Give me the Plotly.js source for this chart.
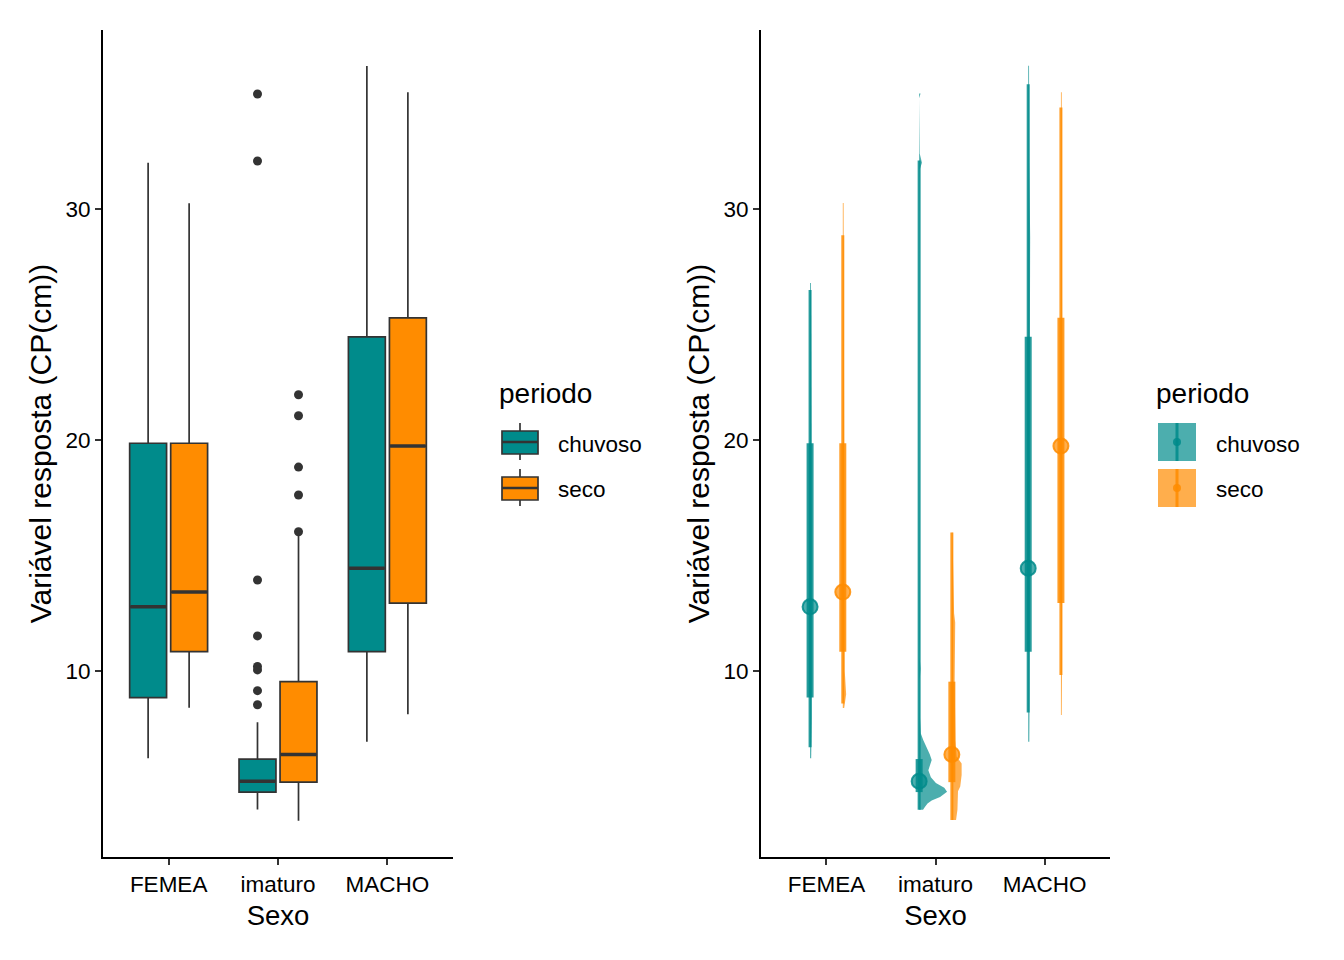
<!DOCTYPE html>
<html>
<head>
<meta charset="utf-8">
<script src="https://cdn.plot.ly/plotly-3.0.1.min.js"></script>
<style>
  html, body { margin: 0; padding: 0; background: #fff; }
  #myDiv { width: 1344px; height: 960px; }
</style>
</head>
<body>
<div id="myDiv"></div>
<script>
// categorias e periodos
var categorias = ['FEMEA', 'imaturo', 'MACHO'];
var periodos = ['chuvoso', 'seco'];

// boxplot, ordem: FEMEA, imaturo, MACHO
var q1Chuvoso = [8.85, 4.76, 10.84];
var q1Seco = [10.84, 5.19, 12.94];
var medianaChuvoso = [12.78, 5.23, 14.45];
var medianaSeco = [13.42, 6.39, 19.74];
var q3Chuvoso = [19.86, 6.19, 24.47];
var q3Seco = [19.86, 9.54, 25.29];
var bigodeInfChuvoso = [6.22, 4.01, 6.94];
var bigodeInfSeco = [8.41, 3.52, 8.13];
var bigodeSupChuvoso = [32.0, 7.78, 36.19];
var bigodeSupSeco = [30.25, 15.95, 35.05];

// outliers por categoria
var outliersChuvoso = [[], [34.98, 32.08, 13.94, 11.52, 10.2, 10.05, 9.15, 8.54], []];
var outliersSeco = [[], [21.96, 21.05, 18.83, 17.62, 16.03], []];

// intervalo fino (95%) do painel direito
var int95LoChuvoso = [6.7, 4.0, 8.2];
var int95LoSeco = [8.6, 3.55, 9.83];
var int95HiChuvoso = [26.5, 32.1, 35.4];
var int95HiSeco = [28.87, 16.0, 34.4];

// densidade (slab) por grupo: valores e densidade relativa
var slabYChuvoso = [
  [6.23, 8, 12, 16, 20, 24, 26.8],
  [4.0, 4.1, 4.27, 4.4, 4.55, 4.78, 4.95, 5.15, 5.4, 5.7, 5.9, 6.15, 6.4, 6.7, 7.0, 7.3, 8.0, 9.6, 10.1, 10.6, 11.5, 14.0, 20, 31.7, 32.0, 32.4, 34.8, 35.0],
  [6.94, 9, 12, 16, 20, 24, 28.8, 32, 36.2]
];
var slabDChuvoso = [
  [0.04, 0.06, 0.07, 0.06, 0.05, 0.04, 0.03],
  [0.14, 0.2, 0.3, 0.45, 0.75, 1.0, 0.9, 0.6, 0.42, 0.33, 0.38, 0.45, 0.38, 0.25, 0.15, 0.06, 0.03, 0.02, 0.05, 0.02, 0.03, 0.02, 0.0, 0.02, 0.1, 0.02, 0.0, 0.05],
  [0.04, 0.05, 0.06, 0.06, 0.05, 0.05, 0.07, 0.04, 0.03]
];
var slabYSeco = [
  [8.4, 9, 10, 14, 18, 22, 26, 30.26],
  [3.55, 4.0, 4.8, 5.0, 5.5, 6.0, 6.3, 7.0, 9.5, 12.1, 12.5, 16.0],
  [8.1, 10, 14, 18, 22, 26, 30, 35.06]
];
var slabDSeco = [
  [0.05, 0.12, 0.07, 0.06, 0.05, 0.04, 0.03, 0.03],
  [0.15, 0.2, 0.22, 0.3, 0.35, 0.35, 0.17, 0.13, 0.1, 0.12, 0.08, 0.02],
  [0.03, 0.04, 0.05, 0.06, 0.05, 0.04, 0.03, 0.03]
];

var cores = ['#008B8B', '#FF8C00'];
var coresAlpha = ['rgba(0,139,139,0.7)', 'rgba(255,140,0,0.7)'];
var coresInt = ['rgba(0,139,139,0.85)', 'rgba(255,140,0,0.85)'];
var fonte = 'Liberation Sans, Arial, sans-serif';

var dodgeBox = 0.1875, larguraBox = 0.3375;
var dodgeSlab = 0.15, escalaSlab = 0.256;

var stats = [
  {q1: q1Chuvoso, med: medianaChuvoso, q3: q3Chuvoso, lo: bigodeInfChuvoso, hi: bigodeSupChuvoso,
   out: outliersChuvoso, i95lo: int95LoChuvoso, i95hi: int95HiChuvoso, sy: slabYChuvoso, sd: slabDChuvoso},
  {q1: q1Seco, med: medianaSeco, q3: q3Seco, lo: bigodeInfSeco, hi: bigodeSupSeco,
   out: outliersSeco, i95lo: int95LoSeco, i95hi: int95HiSeco, sy: slabYSeco, sd: slabDSeco}
];

var data = [];

// painel esquerdo: boxplots
stats.forEach(function (s, k) {
  var sinal = k === 0 ? -1 : 1;
  var pos = categorias.map(function (c, i) { return i + 1 + sinal * dodgeBox; });
  data.push({
    type: 'box', xaxis: 'x', yaxis: 'y',
    x: pos, q1: s.q1, median: s.med, q3: s.q3,
    lowerfence: s.lo, upperfence: s.hi,
    width: larguraBox, whiskerwidth: 0, boxpoints: false,
    fillcolor: cores[k], line: {color: '#333333', width: 1.7},
    name: periodos[k], showlegend: false, hoverinfo: 'skip'
  });
  // linha da mediana mais grossa
  var mx = [], my = [];
  pos.forEach(function (p, i) {
    mx.push(p - larguraBox / 2 + 0.006, p + larguraBox / 2 - 0.006, null);
    my.push(s.med[i], s.med[i], null);
  });
  data.push({
    type: 'scatter', mode: 'lines', xaxis: 'x', yaxis: 'y',
    x: mx, y: my, line: {color: '#333333', width: 3.6},
    showlegend: false, hoverinfo: 'skip'
  });
  // outliers
  var ox = [], oy = [];
  s.out.forEach(function (vals, i) {
    vals.forEach(function (v) { ox.push(pos[i]); oy.push(v); });
  });
  data.push({
    type: 'scatter', mode: 'markers', xaxis: 'x', yaxis: 'y',
    x: ox, y: oy, marker: {color: '#333333', size: 9},
    showlegend: false, hoverinfo: 'skip'
  });
});

// painel direito: slab + intervalos + ponto
stats.forEach(function (s, k) {
  var sinal = k === 0 ? -1 : 1;
  var pos = categorias.map(function (c, i) { return i + 1 + sinal * dodgeSlab; });
  pos.forEach(function (p, i) {
    var ys = s.sy[i], ds = s.sd[i];
    var px = [p], py = [ys[0]];
    ys.forEach(function (y, j) { px.push(p + ds[j] * escalaSlab); py.push(y); });
    px.push(p); py.push(ys[ys.length - 1]);
    data.push({
      type: 'scatter', mode: 'lines', xaxis: 'x2', yaxis: 'y2',
      x: px, y: py, fill: 'toself', fillcolor: coresAlpha[k],
      line: {width: 0, color: coresAlpha[k]},
      showlegend: false, hoverinfo: 'skip'
    });
  });
  var tx = [], ty = [], gx = [], gy = [];
  pos.forEach(function (p, i) {
    tx.push(p, p, null); ty.push(s.i95lo[i], s.i95hi[i], null);
    gx.push(p, p, null); gy.push(s.q1[i], s.q3[i], null);
  });
  data.push({
    type: 'scatter', mode: 'lines', xaxis: 'x2', yaxis: 'y2',
    x: tx, y: ty, line: {color: coresInt[k], width: 3},
    showlegend: false, hoverinfo: 'skip'
  });
  data.push({
    type: 'scatter', mode: 'lines', xaxis: 'x2', yaxis: 'y2',
    x: gx, y: gy, line: {color: coresInt[k], width: 7},
    showlegend: false, hoverinfo: 'skip'
  });
  data.push({
    type: 'scatter', mode: 'markers', xaxis: 'x2', yaxis: 'y2',
    x: pos, y: s.med,
    marker: {color: coresAlpha[k], size: 15, line: {color: coresInt[k], width: 2}},
    showlegend: false, hoverinfo: 'skip'
  });
});

// eixos
function eixoX(dominio, ancora) {
  return {
    domain: dominio, anchor: ancora, range: [0.4, 3.6],
    tickvals: [1, 2, 3], ticktext: categorias,
    showline: true, linecolor: '#000', linewidth: 2,
    ticks: 'outside', ticklen: 6, tickwidth: 2, tickcolor: '#333333',
    showgrid: false, zeroline: false,
    tickfont: {family: fonte, size: 22.5, color: '#000'},
    title: {text: 'Sexo', font: {family: fonte, size: 27.5, color: '#000'}, standoff: 10},
    automargin: true
  };
}
function eixoY(ancora) {
  return {
    domain: [1 - 857 / 960, 1 - 30 / 960], anchor: ancora, range: [1.95, 37.75],
    tickvals: [10, 20, 30],
    showline: true, linecolor: '#000', linewidth: 2,
    ticks: 'outside', ticklen: 6, tickwidth: 2, tickcolor: '#333333',
    showgrid: false, zeroline: false,
    tickfont: {family: fonte, size: 22.5, color: '#000'},
    title: {text: 'Variável resposta (CP(cm))', font: {family: fonte, size: 30, color: '#000'}, standoff: 5},
    automargin: true
  };
}

// legendas desenhadas a mao
function px(x) { return x / 1344; }
function py(y) { return 1 - y / 960; }
var shapes = [], annotations = [];
[{x0: 497, kx: 520, tx: 556, tipo: 'box'}, {x0: 1154, kx: 1177, tx: 1214, tipo: 'slab'}].forEach(function (L) {
  annotations.push({xref: 'paper', yref: 'paper', x: px(L.x0), y: py(393), xanchor: 'left', yanchor: 'middle',
    text: 'periodo', showarrow: false, font: {family: fonte, size: 28, color: '#000'}});
  periodos.forEach(function (nome, k) {
    var cy = 442 + 46 * k;
    if (L.tipo === 'box') {
      shapes.push({type: 'line', xref: 'paper', yref: 'paper', x0: px(L.kx), x1: px(L.kx), y0: py(cy - 19), y1: py(cy + 18),
        line: {color: '#333333', width: 1.7}});
      shapes.push({type: 'rect', xref: 'paper', yref: 'paper', x0: px(L.kx - 18), x1: px(L.kx + 18), y0: py(cy - 11), y1: py(cy + 12),
        fillcolor: cores[k], line: {color: '#333333', width: 1.7}});
      shapes.push({type: 'line', xref: 'paper', yref: 'paper', x0: px(L.kx - 18), x1: px(L.kx + 18), y0: py(cy), y1: py(cy),
        line: {color: '#333333', width: 2.5}});
    } else {
      shapes.push({type: 'rect', xref: 'paper', yref: 'paper', x0: px(L.kx - 19), x1: px(L.kx + 19), y0: py(cy - 19), y1: py(cy + 19),
        fillcolor: coresAlpha[k], line: {width: 0}});
      shapes.push({type: 'line', xref: 'paper', yref: 'paper', x0: px(L.kx), x1: px(L.kx), y0: py(cy - 19), y1: py(cy + 19),
        line: {color: coresInt[k], width: 3}});
      shapes.push({type: 'circle', xref: 'paper', yref: 'paper', x0: px(L.kx - 4), x1: px(L.kx + 4), y0: py(cy - 4), y1: py(cy + 4),
        fillcolor: coresInt[k], line: {width: 0}});
    }
    annotations.push({xref: 'paper', yref: 'paper', x: px(L.tx), y: py(cy + 2), xanchor: 'left', yanchor: 'middle',
      text: nome, showarrow: false, font: {family: fonte, size: 22.5, color: '#000'}});
  });
});

var layout = {
  width: 1344, height: 960,
  margin: {l: 0, r: 0, t: 0, b: 0},
  paper_bgcolor: '#fff', plot_bgcolor: '#fff',
  showlegend: false, boxmode: 'overlay',
  font: {family: fonte},
  xaxis: eixoX([103 / 1344, 453 / 1344], 'y'),
  yaxis: eixoY('x'),
  xaxis2: eixoX([761 / 1344, 1110 / 1344], 'y2'),
  yaxis2: eixoY('x2'),
  shapes: shapes,
  annotations: annotations
};

Plotly.newPlot('myDiv', data, layout, {staticPlot: true});
</script>
</body>
</html>
